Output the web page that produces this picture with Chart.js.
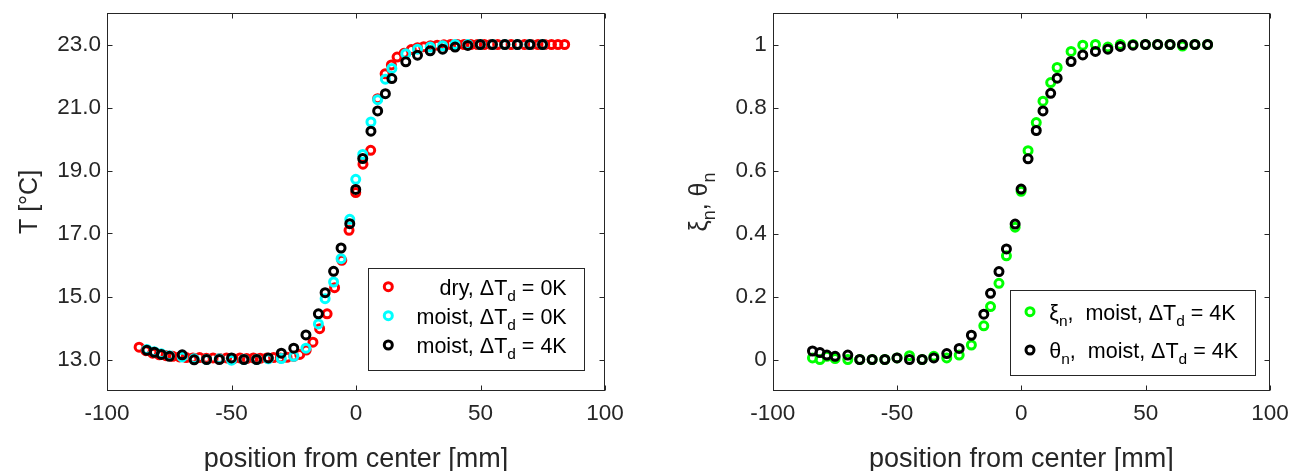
<!DOCTYPE html>
<html>
<head>
<meta charset="utf-8">
<title>Temperature profiles</title>
<script src="https://cdn.jsdelivr.net/npm/chart.js@4.4.1/dist/chart.umd.min.js"></script>
<style>
  html, body { margin: 0; padding: 0; background: #fff; }
  #wrap { position: relative; width: 1290px; height: 471px; overflow: hidden; }
  canvas { position: absolute; top: 0; }
  #left { left: 0; }
  #right { left: 645px; }
</style>
</head>
<body>
<div id="wrap">
  <canvas id="left" width="645" height="471"></canvas>
  <canvas id="right" width="645" height="471"></canvas>
</div>
<script>
// positions [mm] of the dry run
const dryPos = [-87.1, -84.4, -81.7, -79.0, -76.3, -73.6, -70.9, -68.2, -65.5, -62.8,
  -60.1, -57.4, -54.7, -52.0, -49.3, -46.6, -43.9, -41.2, -38.5, -35.8,
  -33.1, -30.4, -27.7, -25.0, -22.6, -20.0, -17.3, -14.6, -11.6, -8.6,
  -5.7, -2.8, -0.1, 2.8, 5.9, 8.7, 11.7, 14.2, 16.5, 19.3,
  22.2, 24.7, 27.2, 29.9, 32.6, 35.3, 38.0, 40.7, 43.4, 46.1,
  48.8, 51.5, 54.2, 56.9, 59.6, 62.3, 65.0, 67.7, 70.4, 73.1,
  75.8, 78.5, 81.1, 83.8];
const dryTemp = [13.39, 13.28, 13.20, 13.15, 13.12, 13.10, 13.08, 13.06, 13.05, 13.06,
  13.04, 13.05, 13.03, 13.05, 13.02, 13.05, 13.03, 13.05, 13.04, 13.05,
  13.06, 13.05, 13.07, 13.10, 13.16, 13.30, 13.55, 13.98, 14.45, 15.28,
  16.15, 17.10, 18.30, 19.20, 19.64, 21.28, 22.07, 22.35, 22.60, 22.72,
  22.84, 22.90, 22.93, 22.96, 22.98, 22.99, 23.0, 23.0, 23.0, 23.0,
  23.0, 23.0, 23.0, 23.0, 23.0, 23.0, 23.0, 23.0, 23.0, 23.0,
  23.0, 23.0, 23.0, 23.0];

// positions [mm] of the moist runs
const moistPos = [-84, -81, -78.2, -74.9, -69.8, -65, -60, -54.9, -50, -45,
  -39.9, -35.2, -30, -25, -20.1, -15.1, -12.4, -9, -6, -2.5,
  -0.1, 2.7, 6, 8.7, 11.8, 14.4, 20, 24.7, 29.8, 34.8,
  39.8, 44.9, 49.9, 54.8, 59.8, 64.8, 69.8, 74.9];
const moist0Temp = [13.32, 13.25, 13.18, 13.12, 13.08, 13.02, 13.00, 13.02, 12.98, 13.00,
  13.00, 13.02, 13.03, 13.10, 13.36, 14.13, 14.93, 15.46, 16.20, 17.45,
  18.72, 19.51, 20.54, 21.25, 21.90, 22.24, 22.71, 22.85, 22.92, 22.96,
  23.0, 23.0, 23.0, 23.0, 23.0, 23.0, 23.0, 23.0];
const moist4Temp = [13.29, 13.23, 13.16, 13.10, 13.15, 12.99, 13.00, 13.00, 13.05, 13.00,
  13.00, 13.05, 13.20, 13.36, 13.78, 14.45, 15.12, 15.80, 16.54, 17.31,
  18.40, 19.38, 20.25, 20.89, 21.44, 21.92, 22.45, 22.66, 22.80, 22.85,
  22.92, 22.97, 23.0, 23.0, 23.0, 23.0, 23.0, 23.0];

// normalised profiles, moist run with dT_d = 4K
const xiMoist4 = [0.005, 0.0, 0.010, 0.003, 0.0, 0.0, 0.0, 0.0, 0.005, 0.012,
  0.0, 0.010, 0.005, 0.014, 0.046, 0.107, 0.168, 0.242, 0.329, 0.420,
  0.534, 0.663, 0.752, 0.820, 0.879, 0.927, 0.978, 0.998, 1.0, 0.992,
  1.0, 1.0, 1.0, 1.0, 1.0, 0.995, 1.0, 1.0];
const thetaMoist4 = [0.027, 0.022, 0.014, 0.010, 0.014, 0.0, 0.0, 0.0, 0.005, 0.0,
  0.0, 0.005, 0.019, 0.035, 0.077, 0.144, 0.210, 0.279, 0.351, 0.430,
  0.541, 0.637, 0.727, 0.789, 0.845, 0.893, 0.946, 0.967, 0.978, 0.985,
  0.994, 0.998, 1.0, 1.0, 1.0, 1.0, 1.0, 1.0];

const xTickVals = [-100, -50, 0, 50, 100];
const tempTicks = [13, 15, 17, 19, 21, 23];
const normTicks = [0, 0.2, 0.4, 0.6, 0.8, 1];

const FONT = "'Liberation Sans', Arial, Helvetica, sans-serif";
const INK = '#262626';
const RADIUS = 4;
const RING = 3;

function pts(xs, ys) {
  return xs.map((x, i) => ({ x: x, y: ys[i] }));
}

function ring(label, xs, ys, color, order) {
  return {
    label: label,
    data: pts(xs, ys),
    order: order,
    showLine: false,
    pointStyle: 'circle',
    pointRadius: RADIUS,
    pointHoverRadius: RADIUS,
    borderWidth: RING,
    pointBorderWidth: RING,
    borderColor: color,
    pointBorderColor: color,
    backgroundColor: 'rgba(0,0,0,0)',
    pointBackgroundColor: 'rgba(0,0,0,0)'
  };
}

// text with simple subscripts
function segFont(size, sub) {
  return (sub ? size * 0.72 : size) + 'px ' + FONT;
}
function richWidth(ctx, segs, size) {
  let w = 0;
  segs.forEach(s => {
    ctx.font = segFont(size, s.sub);
    w += ctx.measureText(s.t).width;
  });
  return w;
}
function drawRich(ctx, segs, x, y, size) {
  segs.forEach(s => {
    ctx.font = segFont(size, s.sub);
    ctx.fillText(s.t, x, y + (s.sub ? size * 0.3 : 0));
    x += ctx.measureText(s.t).width;
  });
}

// matlab style box with inward ticks on all four sides
const frame = {
  id: 'frame',
  afterDatasetsDraw(chart) {
    const { ctx, chartArea: a, scales } = chart;
    const L = Math.round(a.left) + 0.5, R = Math.round(a.right) - 0.5;
    const T = Math.round(a.top) + 0.5, B = Math.round(a.bottom) - 0.5;
    ctx.save();
    ctx.strokeStyle = INK;
    ctx.lineWidth = 1;
    ctx.strokeRect(L, T, R - L, B - T);
    ctx.beginPath();
    scales.x.ticks.forEach(t => {
      const px = Math.round(scales.x.getPixelForValue(t.value)) + 0.5;
      ctx.moveTo(px, B); ctx.lineTo(px, B - 5);
      ctx.moveTo(px, T); ctx.lineTo(px, T + 5);
    });
    scales.y.ticks.forEach(t => {
      const py = Math.round(scales.y.getPixelForValue(t.value)) + 0.5;
      ctx.moveTo(L, py); ctx.lineTo(L + 5, py);
      ctx.moveTo(R, py); ctx.lineTo(R - 5, py);
    });
    ctx.stroke();
    ctx.restore();
  }
};

function boxLegend(spec) {
  return {
    id: 'boxLegend',
    afterDatasetsDraw(chart) {
      const ctx = chart.ctx;
      const b = spec.box;
      ctx.save();
      ctx.fillStyle = '#fff';
      ctx.fillRect(b.x, b.y, b.w, b.h);
      ctx.strokeStyle = INK;
      ctx.lineWidth = 1;
      ctx.strokeRect(b.x + 0.5, b.y + 0.5, b.w - 1, b.h - 1);
      spec.rows.forEach((r, i) => {
        const cy = spec.rowY[i];
        ctx.beginPath();
        ctx.arc(spec.markerX, cy, RADIUS, 0, Math.PI * 2);
        ctx.lineWidth = RING;
        ctx.strokeStyle = r.color;
        ctx.stroke();
        ctx.fillStyle = '#000';
        ctx.textAlign = 'left';
        ctx.textBaseline = 'alphabetic';
        const w = richWidth(ctx, r.segs, spec.size);
        const x0 = spec.align === 'right' ? spec.textX - w : spec.textX;
        drawRich(ctx, r.segs, x0, cy + 8, spec.size);
      });
      ctx.restore();
    }
  };
}

function axisTitles(spec) {
  return {
    id: 'axisTitles',
    afterDraw(chart) {
      const { ctx, chartArea: a } = chart;
      ctx.save();
      ctx.fillStyle = INK;
      ctx.textAlign = 'left';
      ctx.textBaseline = 'alphabetic';
      const wx = richWidth(ctx, spec.x, spec.xSize);
      drawRich(ctx, spec.x, (a.left + a.right) / 2 - wx / 2, spec.xBase, spec.xSize);
      ctx.translate(spec.yBase, (a.top + a.bottom) / 2);
      ctx.rotate(-Math.PI / 2);
      const wy = richWidth(ctx, spec.y, spec.ySize);
      drawRich(ctx, spec.y, -wy / 2, 0, spec.ySize);
      ctx.restore();
    }
  };
}

function makeChart(id, datasets, yMin, yMax, yTicks, yFmt, yWidth, padRight, extra) {
  const tickFont = { family: FONT, size: 22.5 };
  return new Chart(document.getElementById(id), {
    type: 'scatter',
    data: { datasets: datasets },
    options: {
      responsive: false,
      animation: false,
      devicePixelRatio: 1,
      events: [],
      layout: { padding: { top: 13, right: padRight, left: 0, bottom: 0 } },
      plugins: { legend: { display: false }, tooltip: { enabled: false } },
      scales: {
        x: {
          type: 'linear', min: -100, max: 100,
          afterBuildTicks: s => { s.ticks = xTickVals.map(v => ({ value: v })); },
          afterFit: s => { s.height = 80; s.paddingLeft = 0; s.paddingRight = 0; },
          grid: { display: false, drawTicks: false },
          border: { display: false },
          ticks: { padding: 9, color: INK, font: tickFont, maxRotation: 0, autoSkip: false,
                   callback: v => String(v) }
        },
        y: {
          type: 'linear', min: yMin, max: yMax,
          afterBuildTicks: s => { s.ticks = yTicks.map(v => ({ value: v })); },
          afterFit: s => { s.width = yWidth; s.paddingTop = 0; s.paddingBottom = 0; },
          grid: { display: false, drawTicks: false },
          border: { display: false },
          ticks: { padding: 6, color: INK, font: tickFont, autoSkip: false, callback: yFmt }
        }
      }
    },
    plugins: [frame].concat(extra)
  });
}

const xTitle = [{ t: 'position from center [mm]' }];

makeChart('left', [
  ring('dry, \u0394T_d = 0K', dryPos, dryTemp, '#ff0000', 2),
  ring('moist, \u0394T_d = 0K', moistPos, moist0Temp, '#00ffff', 1),
  ring('moist, \u0394T_d = 4K', moistPos, moist4Temp, '#000000', 0)
], 12, 24, tempTicks, v => Number(v).toFixed(1), 107, 40, [
  boxLegend({
    box: { x: 368, y: 268, w: 217, h: 103 },
    markerX: 388.3, rowY: [286.7, 315.7, 345], textX: 566.7, align: 'right', size: 21.5,
    rows: [
      { color: '#ff0000', segs: [{ t: 'dry, \u0394T' }, { t: 'd', sub: true }, { t: ' = 0K' }] },
      { color: '#00ffff', segs: [{ t: 'moist, \u0394T' }, { t: 'd', sub: true }, { t: ' = 0K' }] },
      { color: '#000000', segs: [{ t: 'moist, \u0394T' }, { t: 'd', sub: true }, { t: ' = 4K' }] }
    ]
  }),
  axisTitles({ xSize: 27, ySize: 25, x: xTitle, xBase: 467, y: [{ t: 'T [\u00B0C]' }], yBase: 37 })
]);

makeChart('right', [
  ring('\u03BE_n, moist, \u0394T_d = 4K', moistPos, xiMoist4, '#00ff00', 1),
  ring('\u03B8_n, moist, \u0394T_d = 4K', moistPos, thetaMoist4, '#000000', 0)
], -0.1, 1.1, normTicks, v => String(Math.round(v * 10) / 10), 127.7, 20, [
  boxLegend({
    box: { x: 365, y: 290, w: 246, h: 86 },
    markerX: 385, rowY: [311.7, 350], textX: 404.3, align: 'left', size: 21.5,
    rows: [
      { color: '#00ff00', segs: [{ t: '\u03BE' }, { t: 'n', sub: true }, { t: ',  moist, \u0394T' }, { t: 'd', sub: true }, { t: ' = 4K' }] },
      { color: '#000000', segs: [{ t: '\u03B8' }, { t: 'n', sub: true }, { t: ',  moist, \u0394T' }, { t: 'd', sub: true }, { t: ' = 4K' }] }
    ]
  }),
  axisTitles({ xSize: 27, ySize: 25, x: xTitle, xBase: 467,
    y: [{ t: '\u03BE' }, { t: 'n', sub: true }, { t: ', \u03B8' }, { t: 'n', sub: true }], yBase: 62 })
]);
</script>
</body>
</html>
